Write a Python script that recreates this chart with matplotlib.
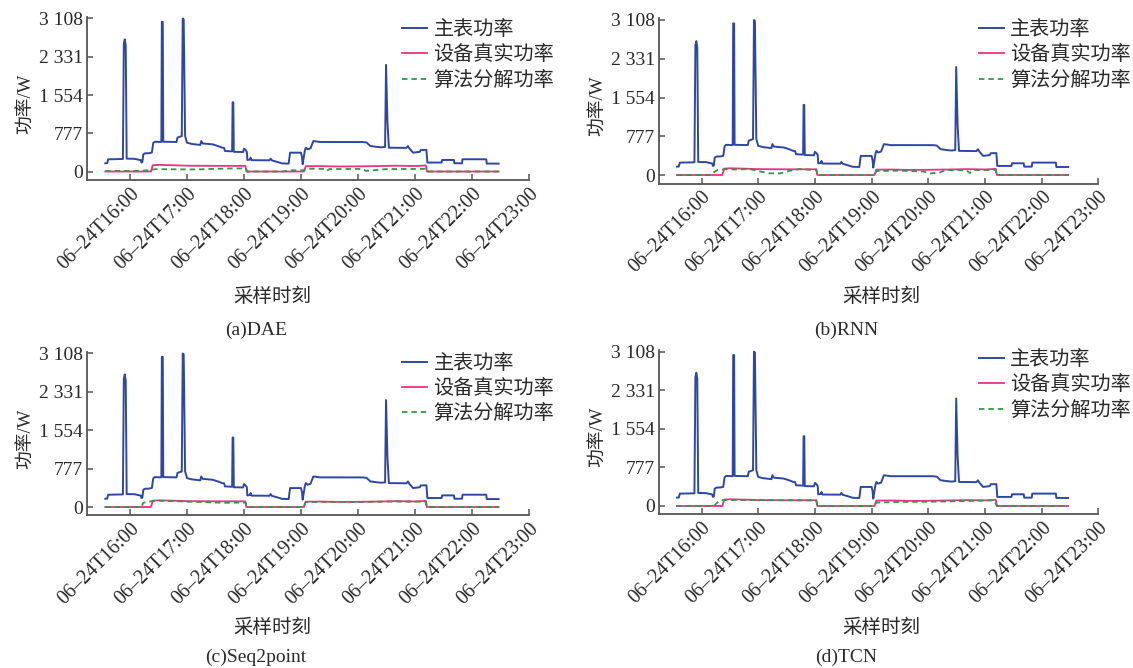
import matplotlib
matplotlib.use('Agg')
import matplotlib.pyplot as plt
import pandas as pd

plt.rcParams['font.family'] = ['Liberation Serif', 'Noto Sans CJK SC']

DAY = '2023-06-24 '

# ---- data ----
main_t = ["15:34:00", "15:36:00", "15:37:00", "15:52:30", "15:53:30", "15:54:30", "15:55:30", "15:56:30",
          "16:05:00", "16:09:00", "16:11:30", "16:12:00", "16:13:00", "16:14:00", "16:16:00", "16:20:00",
          "16:23:00", "16:24:30", "16:26:00", "16:33:00", "16:33:30", "16:34:30", "16:35:00", "16:49:00",
          "16:50:00", "16:54:30", "16:55:30", "16:56:30", "16:58:00", "17:00:00", "17:05:00", "17:14:00",
          "17:15:00", "17:16:30", "17:27:00", "17:33:00", "17:37:00", "17:39:00", "17:40:00", "17:47:30",
          "17:48:00", "17:48:45", "17:49:15", "17:59:00", "18:00:00", "18:01:30", "18:03:00", "18:03:30",
          "18:06:00", "18:07:00", "18:08:00", "18:27:00", "18:28:00", "18:29:30", "18:35:00", "18:40:00",
          "18:47:00", "18:48:30", "19:00:00", "19:01:00", "19:01:45", "19:04:00", "19:05:00", "19:07:00",
          "19:10:00", "19:13:00", "19:20:00", "20:05:00", "20:09:00", "20:13:00", "20:20:00", "20:24:30",
          "20:28:30", "20:29:30", "20:31:00", "20:32:30", "20:51:00", "20:52:30", "20:54:00", "20:58:00",
          "21:05:00", "21:06:00", "21:12:00", "21:13:00", "21:28:00", "21:28:30", "21:41:00", "21:41:30",
          "21:49:30", "21:50:00", "22:15:00", "22:15:30", "22:28:00"]
main_w = [168, 170, 248, 255, 2600, 2684, 2560, 262,
          258, 240, 230, 182, 190, 350, 370, 372,
          385, 580, 605, 600, 3040, 3040, 605, 600,
          690, 720, 3108, 3090, 720, 585, 560, 540,
          619, 570, 552, 515, 484, 480, 417, 410,
          1406, 1406, 400, 396, 464, 440, 400, 235,
          240, 282, 230, 228, 262, 225, 195, 165,
          161, 383, 383, 300, 148, 420, 484, 451,
          470, 619, 600, 599, 590, 518, 500, 491,
          500, 2166, 1000, 484, 480, 518, 470, 383,
          400, 437, 440, 182, 182, 235, 235, 168,
          168, 249, 249, 161, 161]

dev_t = ["15:34", "16:22", "16:24", "16:30", "16:45", "17:00", "17:30", "18:00", "18:01:30", "18:02:30",
         "19:03", "19:05", "19:20", "19:40", "20:00", "20:20", "20:40", "21:00", "21:09", "21:10",
         "21:11:30", "21:12:30", "22:28"]
dev_w = [0, 0, 128, 135, 128, 118, 115, 115, 115, 0,
         0, 108, 110, 102, 105, 110, 118, 112, 120, 125,
         120, 0, 0]

dae_t = ["15:34", "16:00", "16:15", "16:22", "16:26", "16:45", "17:10", "17:30", "17:50", "18:02",
         "18:03:30", "18:40", "18:50", "19:03", "19:06", "19:25", "19:27", "19:30", "20:00", "20:06",
         "20:08", "20:30", "21:00", "21:11", "21:13", "22:28"]
dae_w = [10, 12, 20, 30, 48, 45, 42, 55, 65, 62,
         0, 0, 25, 25, 58, 55, 15, 50, 52, 48,
         12, 50, 52, 55, 0, 0]

rnn_t = ["15:34", "16:10", "16:12", "16:17", "16:28", "16:36", "16:51", "17:03", "17:12", "17:23",
         "17:34", "17:44", "18:00", "18:01:30", "18:02:30", "19:03", "19:05", "19:30", "19:55", "20:02",
         "20:12", "20:18", "20:40", "20:44", "20:48", "21:00", "21:11", "21:12:30", "22:28"]
rnn_w = [0, 0, 45, 100, 120, 110, 120, 67, 33, 33,
         87, 120, 100, 100, 0, 0, 80, 87, 70, 33,
         47, 100, 95, 40, 100, 100, 105, 0, 0]

s2p_t = ["15:34", "16:12", "16:14", "16:23", "16:28", "17:00", "17:40", "18:00", "18:01:30", "18:02:30",
         "19:02", "19:05", "19:30", "20:00", "20:20", "20:40", "21:00", "21:11", "21:12:30", "22:28"]
s2p_w = [0, 0, 87, 118, 128, 110, 85, 90, 90, 0,
         0, 100, 105, 100, 108, 112, 108, 110, 0, 0]

tcn_t = ["15:34", "16:13", "16:18", "16:22", "16:35", "17:00", "17:30", "18:00", "18:01:30", "18:02:30",
         "19:03", "19:05", "19:30", "20:00", "20:30", "21:00", "21:10", "21:12:30", "22:28"]
tcn_w = [0, 0, 95, 118, 120, 118, 115, 112, 112, 0,
         0, 68, 80, 85, 95, 110, 115, 0, 0]

yticks = [0, 777, 1554, 2331, 3108]
ytick_labels = ['0', '777', '1 554', '2 331', '3 108']
tick_hours = ['16:00', '17:00', '18:00', '19:00', '20:00', '21:00', '22:00', '23:00']
xtick_labels = ['06\u201324T' + h for h in tick_hours]
legend_labels = ['主表功率', '设备真实功率', '算法分解功率']
titles = ['(a)DAE', '(b)RNN', '(c)Seq2point', '(d)TCN']
algo_t = [dae_t, rnn_t, s2p_t, tcn_t]
algo_w = [dae_w, rnn_w, s2p_w, tcn_w]


def to_dt(ts):
    return pd.to_datetime([DAY + t for t in ts], format='mixed')


W, H = 1133, 668
fig = plt.figure(figsize=(W / 100, H / 100), dpi=100)

# axes boxes in pixels: left, right, top, bottom
boxes = [(87.25, 529.0, 16.9, 179.9),
         (659.0, 1098.4, 18.4, 183.5),
         (87.25, 529.0, 351.9, 515.4),
         (659.0, 1098.4, 350.1, 514.4)]
legend_anchor_px = [(401.7, 21.0), (978.5, 21.0), (401.7, 354.5), (978.5, 351.0)]
xlabel_px = [(272, 297), (881, 297), (272, 628), (881, 628)]
title_px = [(256, 330), (846, 330), (256, 657), (846, 657)]

BLUE = '#2d47a8'
PINK = '#ee2f86'
GREEN = '#2f9a45'
AX = '#555555'
TXT = '#2a2a2a'

xmin = pd.Timestamp(DAY + '15:15')
xmax = pd.Timestamp(DAY + '23:00')

for i in range(4):
    l, r, t, b = boxes[i]
    ax = fig.add_axes([l / W, 1 - b / H, (r - l) / W, (b - t) / H])
    ax.plot(to_dt(main_t), main_w, color=BLUE, lw=1.4, label=legend_labels[0])
    ax.plot(to_dt(dev_t), dev_w, color=PINK, lw=1.3, label=legend_labels[1])
    ax.plot(to_dt(algo_t[i]), algo_w[i], color=GREEN, lw=1.3, ls=(0, (3, 2.2)), label=legend_labels[2])
    ax.set_xlim(xmin, xmax)
    ax.set_ylim(-170, 3140)
    ax.set_yticks(yticks)
    ax.set_yticklabels(ytick_labels)
    ax.set_xticks(to_dt(tick_hours))
    ax.set_xticklabels(xtick_labels, rotation=45, ha='right', va='top', rotation_mode='anchor')
    for s in ['top', 'right']:
        ax.spines[s].set_visible(False)
    for s in ['left', 'bottom']:
        ax.spines[s].set_color(AX)
        ax.spines[s].set_linewidth(1.3)
    ax.tick_params(direction='in', length=4, width=1.1, color=AX, labelcolor=TXT)
    ax.tick_params(axis='y', labelsize=14, pad=3)
    ax.tick_params(axis='x', labelsize=14.3, pad=3)
    ax.set_ylabel('功率/W', fontsize=13.5, color=TXT)
    ax.yaxis.set_label_coords(-52.0 / (r - l), (b - (t + 87)) / (b - t))
    lx, ly = legend_anchor_px[i]
    ax.legend(loc='upper left', bbox_to_anchor=((lx - l) / (r - l), (b - ly) / (b - t)),
              frameon=False, fontsize=14.5, borderpad=0, borderaxespad=0,
              handlelength=1.25, handletextpad=0.33, labelspacing=0.3, labelcolor=TXT)
    xl, yl = xlabel_px[i]
    fig.text(xl / W, 1 - yl / H, '采样时刻', fontsize=14, color=TXT, ha='center', va='center')
    tx, ty = title_px[i]
    fig.text(tx / W, 1 - ty / H, titles[i], fontsize=14, color=TXT, ha='center', va='center')

fig.savefig('out.png', dpi=100)
